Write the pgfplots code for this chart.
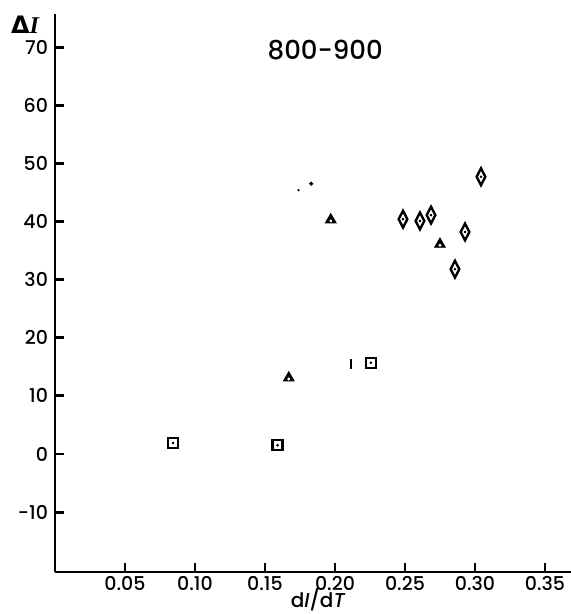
\documentclass[border=0pt]{standalone}
\usepackage{fontspec}
\setmainfont{Poppins}[UprightFont=* Medium, BoldFont=* SemiBold]
\newfontfamily\dejavu{DejaVu Sans}
\newfontfamily\lserif{Liberation Serif}
\usepackage{pgfplots}
\pgfplotsset{compat=1.18}
\usetikzlibrary{plotmarks}

\begin{document}
\begin{tikzpicture}
\begin{axis}[
    scale only axis,
    width=258pt, height=279pt,
    xmin=0, xmax=0.3686,
    ymin=-20.3, ymax=75.7,
    axis x line=bottom, axis y line=left,
    axis line style={line width=1pt, -},
    xtick={0.05,0.10,...,0.35},
    ytick={-10,0,...,70},
    major tick length=0pt,
    xticklabel style={/pgf/number format/fixed, /pgf/number format/fixed zerofill, /pgf/number format/precision=2, yshift=1.5pt},
    /pgf/number format/assume math mode=true,
    ticklabel style={font=\fontsize{9.5}{11}\selectfont},
    xlabel={d\textit{I}/d\textit{T}},
    xlabel style={at={(axis description cs:0.51,-0.049)}, anchor=center, font=\fontsize{10}{12}\selectfont},
    ylabel={{\dejavu\bfseries Δ}{\lserif\itshape\bfseries I}},
    ylabel style={rotate=-90, at={(axis description cs:-0.058,0.98)}, anchor=center, font=\fontsize{12}{14}\selectfont},
    clip=false,
]
% tick marks pointing into the plot, in axis units
\pgfplotsinvokeforeach{-10,0,10,20,30,40,50,60,70}{
    \draw[line width=1.4pt, black] (axis cs:0,#1) -- (axis cs:0.0065,#1);
}
\pgfplotsinvokeforeach{0.05,0.10,0.15,0.20,0.25,0.30,0.35}{
    \draw[line width=1.4pt, black] (axis cs:#1,-20.3) -- (axis cs:#1,-18.7);
}
% squares
\addplot[only marks, mark=square, mark size=2.5pt, mark options={line width=1.2pt, black}] coordinates {
    (0.0843,1.9) (0.159,1.5) (0.2257,15.7)
};
% triangles
\addplot[only marks, mark=triangle*, mark size=3.1pt, mark options={black, fill=black}] coordinates {
    (0.167,13.1) (0.197,40.3) (0.275,36.1)
};
% diamonds
\addplot[only marks, mark=diamond, mark size=2.9pt, mark options={line width=1.2pt, black, yscale=1.45}] coordinates {
    (0.2486,40.4) (0.2607,40.1) (0.2686,41.1) (0.2929,38.2) (0.2857,31.8) (0.3043,47.7)
};
% centre dots in squares and diamonds
\addplot[only marks, mark=*, mark size=0.45pt, black] coordinates {
    (0.0843,1.9) (0.159,1.5) (0.2257,15.7)
    (0.2486,40.4) (0.2607,40.1) (0.2686,41.1) (0.2929,38.2) (0.2857,31.8) (0.3043,47.7)
};
% small holes in the triangles
\addplot[only marks, mark=*, mark size=0.5pt, white] coordinates {
    (0.167,12.9) (0.197,40.1) (0.275,35.9)
};
% vertical bar
\addplot[only marks, mark=|, mark size=2.5pt, mark options={line width=1pt, black}] coordinates {
    (0.2114,15.5)
};
% stray dots
\addplot[only marks, mark=*, mark size=0.8pt, black] coordinates {(0.183,46.5)};
\addplot[only marks, mark=*, mark size=0.35pt, black] coordinates {(0.174,45.4)};
\node[font=\fontsize{13}{15}\selectfont] at (axis cs:0.193,69.5) {800-900};
\end{axis}
\pgfresetboundingbox
\path ([shift={(-27.5pt,-21pt)}]current axis.south west) rectangle ([shift={(0pt,7pt)}]current axis.north east);
\end{tikzpicture}
\end{document}
